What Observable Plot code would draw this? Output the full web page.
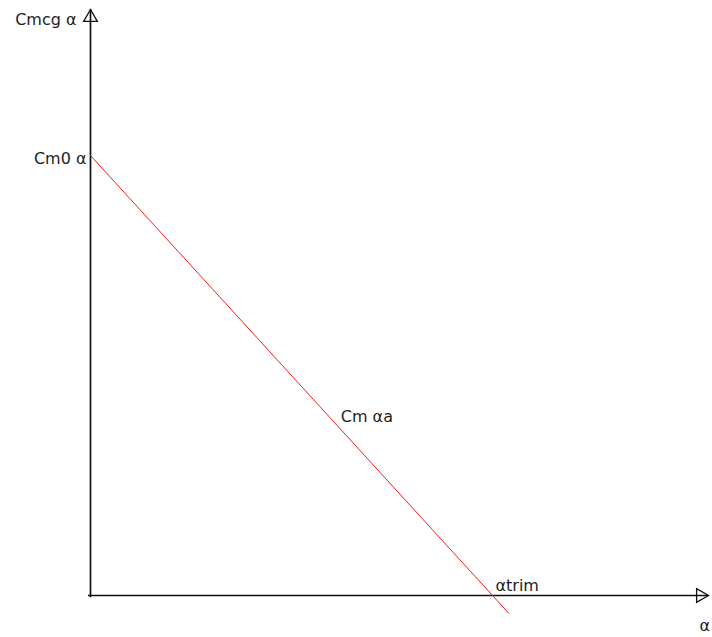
<!DOCTYPE html>
<html>
<head>
<meta charset="utf-8">
<script src="https://cdn.jsdelivr.net/npm/d3@7"></script>
<script src="https://cdn.jsdelivr.net/npm/@observablehq/plot@0.6"></script>
<style>
  html, body { margin: 0; padding: 0; background: #fff; }
  #chart svg { display: block; }
</style>
</head>
<body>
<div id="chart"></div>
<script>
// Pitching-moment curve: Cm decreases linearly with angle of attack α,
// from Cm0 at α = 0 down through zero at α trim.
const cm0 = 1;             // moment coefficient at zero angle of attack
const alphaTrim = 4;       // angle where the moment vanishes
const alphaEnd = 4.16;     // the line runs a little past trim
const alphaAxisEnd = 6.15; // tip of the α axis arrow
const cmAxisEnd = 1.332;   // tip of the Cm axis arrow
const cmAxisStart = -0.005;

const momentLine = [
  {alpha: 0, cm: cm0},
  {alpha: alphaEnd, cm: cm0 * (1 - alphaEnd / alphaTrim)}
];

const labels = [
  {text: "Cmcg α", alpha: 0, cm: cmAxisEnd, anchor: "end", dx: -14, dy: 10},
  {text: "Cm0 α", alpha: 0, cm: cm0, anchor: "end", dx: -4, dy: 3},
  {text: "Cm αa", alpha: 2.49, cm: 0.405, anchor: "start", dx: 0, dy: 0},
  {text: "αtrim", alpha: alphaTrim, cm: 0, anchor: "start", dx: 3, dy: -10},
  {text: "α", alpha: alphaAxisEnd, cm: 0, anchor: "start", dx: -9, dy: 30}
];

const ink = "#111";
const textInk = "#1e1e1e";
const font = "'DejaVu Sans', sans-serif";

const chart = Plot.plot({
  width: 712,
  height: 637,
  style: {background: "#fff", fontFamily: font},
  x: {domain: [0, alphaTrim], range: [90, 492], axis: null},
  y: {domain: [0, cm0], range: [595, 155], axis: null},
  marks: [
    // axes
    Plot.ruleX([0], {y1: cmAxisStart, y2: cmAxisEnd, stroke: ink, strokeWidth: 1.7}),
    Plot.ruleY([0], {x1: -0.02, x2: alphaAxisEnd, stroke: ink, strokeWidth: 1.7}),
    // hollow arrowheads at the axis ends
    Plot.dot([{alpha: 0, cm: cmAxisEnd}], {
      x: "alpha", y: "cm", symbol: "triangle", r: 5.1, dy: 8,
      stroke: ink, strokeWidth: 1.3, fill: "none"
    }),
    Plot.dot([{alpha: alphaAxisEnd, cm: 0}], {
      x: "alpha", y: "cm", symbol: "triangle", r: 5.1, dx: -8, rotate: 90,
      stroke: ink, strokeWidth: 1.3, fill: "none"
    }),
    // moment line
    Plot.line(momentLine, {x: "alpha", y: "cm", stroke: "#ff1a1a", strokeWidth: 1}),
    // annotations
    ...labels.map(d =>
      Plot.text([d], {
        x: "alpha", y: "cm", text: "text", textAnchor: d.anchor,
        dx: d.dx, dy: d.dy, fontSize: 16, fill: textInk
      })
    )
  ]
});

document.getElementById("chart").append(chart);
</script>
</body>
</html>
